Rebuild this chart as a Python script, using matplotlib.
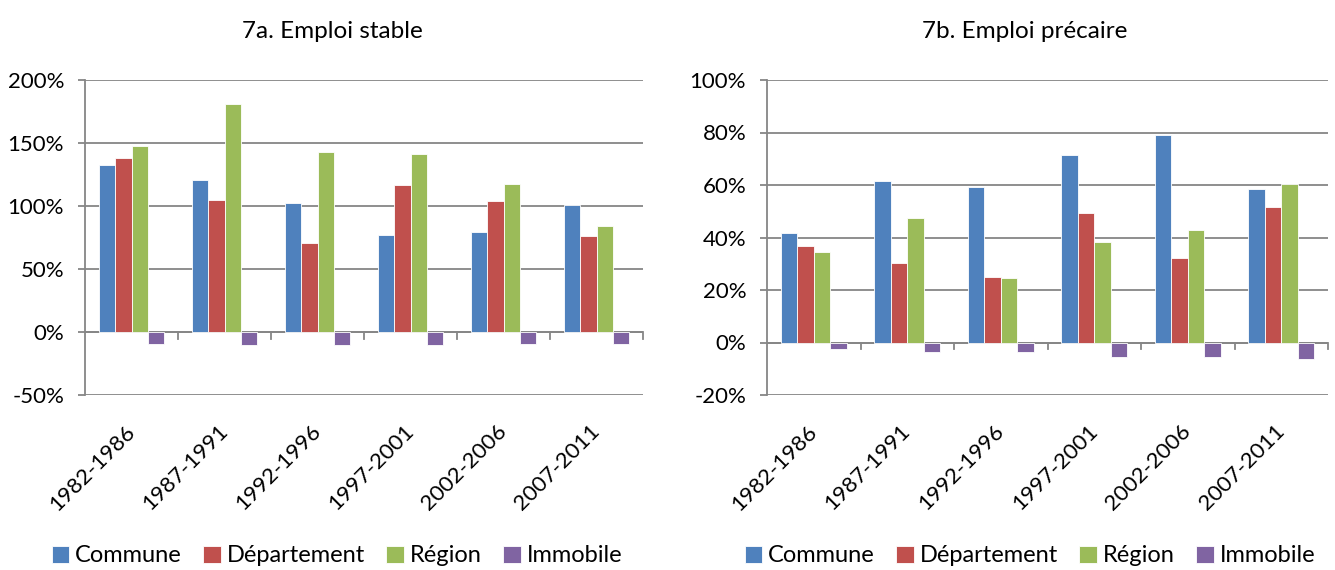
import numpy as np
import matplotlib
matplotlib.use("Agg")
import matplotlib.pyplot as plt
from matplotlib.ticker import FuncFormatter

periods = ["1982-1986", "1987-1991", "1992-1996", "1997-2001", "2002-2006", "2007-2011"]
series_names = ["Commune", "Département", "Région", "Immobile"]
colors = ["#4F81BD", "#C0504D", "#9BBB59", "#8064A2"]

# 7a. Emploi stable (%)
stable_commune = [132.6, 120.5, 102.5, 76.6, 79.3, 100.4]
stable_departement = [137.9, 104.6, 70.8, 117.0, 104.1, 76.4]
stable_region = [147.4, 181.2, 143.2, 141.1, 117.3, 84.5]
stable_immobile = [-9.2, -10.0, -10.0, -10.0, -9.2, -9.5]

# 7b. Emploi précaire (%)
prec_commune = [41.9, 61.6, 59.1, 71.4, 79.2, 58.6]
prec_departement = [36.7, 30.4, 25.0, 49.3, 32.3, 51.5]
prec_region = [34.3, 47.3, 24.5, 38.4, 42.7, 60.5]
prec_immobile = [-2.5, -3.8, -3.8, -5.6, -5.6, -6.2]

plt.rcParams['font.family'] = ['Lato', 'DejaVu Sans']
plt.rcParams['axes.unicode_minus'] = False

W, H = 1335, 570
fig = plt.figure(figsize=(W / 100, H / 100), dpi=100)


def make_axes(x0, x1, y0, y1):
    return fig.add_axes([x0 / W, 1 - y1 / H, (x1 - x0) / W, (y1 - y0) / H])


def draw_panel(ax, data, title, ymin, ymax, step, title_x, legend_x):
    n = len(periods)
    x = np.arange(n)
    bw = 0.177
    for i, (vals, c) in enumerate(zip(data, colors)):
        ax.bar(x + (i - 1.5) * bw, vals, width=bw, color=c, edgecolor='white',
               linewidth=0.6, zorder=3, label=series_names[i])
    ax.set_xlim(-0.5, n - 0.5)
    ax.set_ylim(ymin, ymax)
    ax.set_yticks(np.arange(ymin, ymax + 0.1, step))
    ax.yaxis.set_major_formatter(FuncFormatter(lambda v, p: f"{v:.0f}%"))
    ax.grid(axis='y', color='#868686', linewidth=1.3, zorder=0)
    ax.set_axisbelow(True)
    for s in ['top', 'right', 'bottom']:
        ax.spines[s].set_visible(False)
    ax.spines['left'].set_color('#868686')
    ax.spines['left'].set_linewidth(1.3)
    ax.axhline(0, color='#868686', linewidth=1.3, zorder=2)
    # category boundary ticks below zero line
    for b in np.arange(0.5, n, 1.0):
        ax.plot([b, b], [0, -(ymax - ymin) * 0.022], color='#868686', lw=1.3,
                zorder=2, clip_on=False)
    ax.tick_params(axis='y', length=5, width=1.3, color='#868686', labelsize=16, pad=10)
    ax.set_xticks(x)
    ax.set_xticklabels(periods, rotation=45, ha='right', va='center',
                       rotation_mode='anchor', fontsize=16)
    ax.tick_params(axis='x', length=0, pad=24)
    fig.text(title_x / W, 1 - 32 / H, title, fontsize=17.5, ha='center', va='center')
    handles, labels = ax.get_legend_handles_labels()
    fig.legend(handles, labels, loc='center', bbox_to_anchor=(legend_x / W, 1 - 556 / H),
               ncol=4, frameon=False, fontsize=17, handlelength=0.75, handleheight=0.75,
               handletextpad=0.25, columnspacing=0.9, borderpad=0)


ax1 = make_axes(85, 643, 80, 395)
draw_panel(ax1, [stable_commune, stable_departement, stable_region, stable_immobile],
           "7a. Emploi stable", -50, 200, 50, 332, 337)

ax2 = make_axes(767, 1328, 80, 395)
draw_panel(ax2, [prec_commune, prec_departement, prec_region, prec_immobile],
           "7b. Emploi précaire", -20, 100, 20, 1025, 1030)

fig.savefig("out.png", dpi=100)
